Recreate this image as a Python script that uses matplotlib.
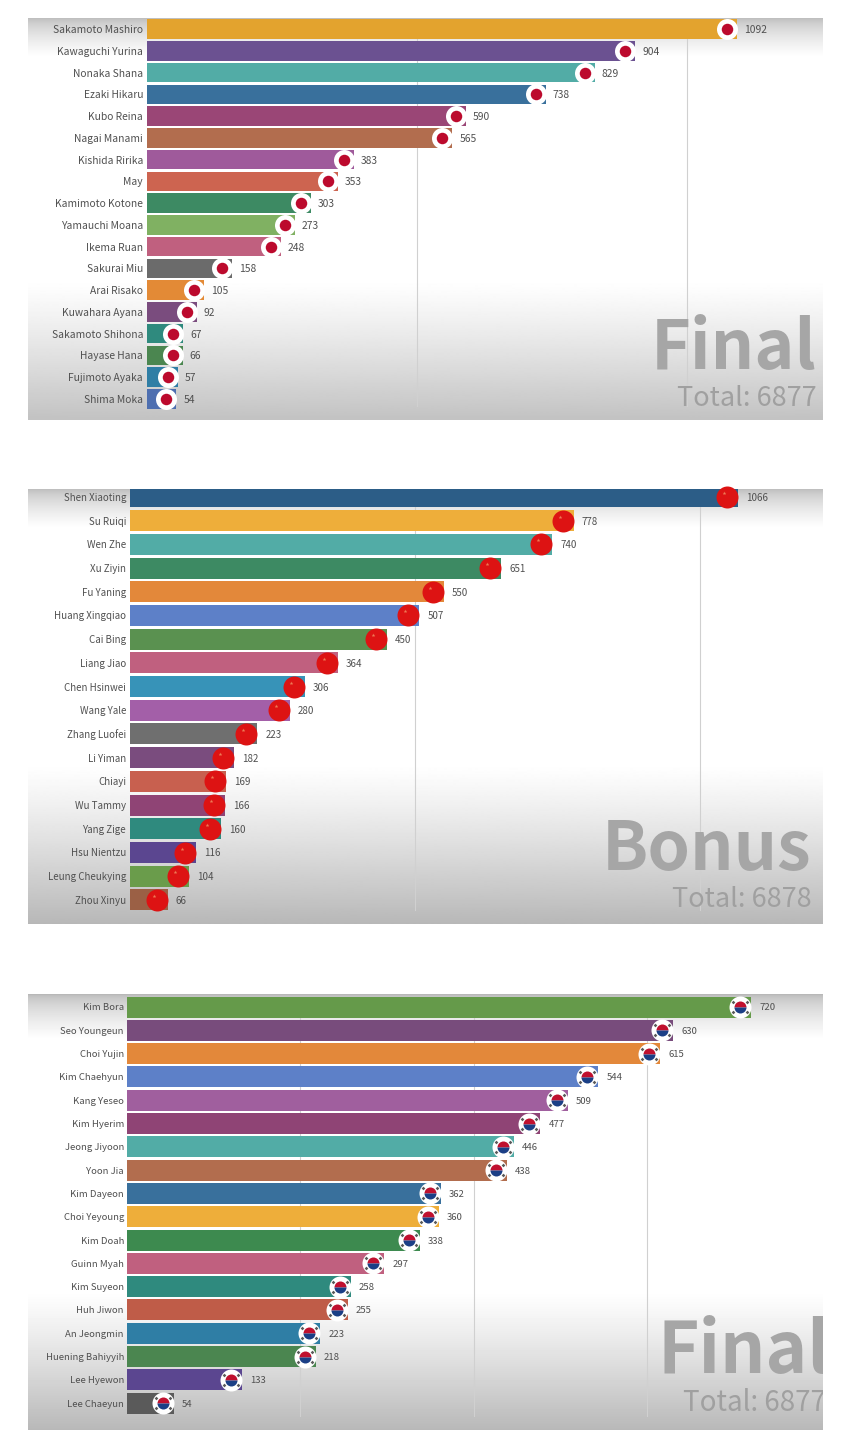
import numpy as np
import matplotlib
matplotlib.use("Agg")
import matplotlib.pyplot as plt
from matplotlib.transforms import ScaledTranslation

plt.rcParams['font.family'] = ['Noto Sans CJK KR', 'DejaVu Sans']

W, H = 850, 1432
DPI = 100

names_jp = ["Sakamoto Mashiro", "Kawaguchi Yurina", "Nonaka Shana", "Ezaki Hikaru", "Kubo Reina",
            "Nagai Manami", "Kishida Ririka", "May", "Kamimoto Kotone", "Yamauchi Moana", "Ikema Ruan",
            "Sakurai Miu", "Arai Risako", "Kuwahara Ayana", "Sakamoto Shihona", "Hayase Hana",
            "Fujimoto Ayaka", "Shima Moka"]
values_jp = [1092, 904, 829, 738, 590, 565, 383, 353, 303, 273, 248, 158, 105, 92, 67, 66, 57, 54]
colors_jp = ["#e3a32e", "#6b5191", "#52aca6", "#39709c", "#9a4676", "#b26d4e", "#9f5a9b", "#cd6450",
             "#3d8a63", "#80b162", "#c0607f", "#6b6b6b", "#e38a36", "#7a4c7e", "#2f8a7e", "#4b8650",
             "#2f7ea5", "#4e6fb0"]

names_cn = ["Shen Xiaoting", "Su Ruiqi", "Wen Zhe", "Xu Ziyin", "Fu Yaning", "Huang Xingqiao", "Cai Bing",
            "Liang Jiao", "Chen Hsinwei", "Wang Yale", "Zhang Luofei", "Li Yiman", "Chiayi", "Wu Tammy",
            "Yang Zige", "Hsu Nientzu", "Leung Cheukying", "Zhou Xinyu"]
values_cn = [1066, 778, 740, 651, 550, 507, 450, 364, 306, 280, 223, 182, 169, 166, 160, 116, 104, 66]
colors_cn = ["#2c5d87", "#eeae3a", "#52aca6", "#3d8a63", "#e3883a", "#5d80c8", "#5a9150", "#c0607f",
             "#3793b8", "#a35fa8", "#6f6f6f", "#7a4c7e", "#c8604f", "#8f4475", "#2f8a7e", "#5b4690",
             "#6a9c4b", "#9b6045"]

names_kr = ["Kim Bora", "Seo Youngeun", "Choi Yujin", "Kim Chaehyun", "Kang Yeseo", "Kim Hyerim",
            "Jeong Jiyoon", "Yoon Jia", "Kim Dayeon", "Choi Yeyoung", "Kim Doah", "Guinn Myah", "Kim Suyeon",
            "Huh Jiwon", "An Jeongmin", "Huening Bahiyyih", "Lee Hyewon", "Lee Chaeyun"]
values_kr = [720, 630, 615, 544, 509, 477, 446, 438, 362, 360, 338, 297, 258, 255, 223, 218, 133, 54]
colors_kr = ["#659a4a", "#784c7c", "#e3883a", "#5d80c8", "#a05f9e", "#8f4475", "#52aca6", "#b26d4e",
             "#39709c", "#eeae3a", "#3d8a4f", "#c0607f", "#2f8a7e", "#bf5c48", "#2f7ea5", "#4b8650",
             "#5b4690", "#5a5a5a"]

ticks_jp = [500, 1000]
ticks_cn = [500, 1000]
ticks_kr = [200, 400, 600]

fig = plt.figure(figsize=(W / DPI, H / DPI), dpi=DPI, facecolor="white")


def px(n):
    return n * 72.0 / DPI


def flag(ax, value, row, kind, dx):
    tr = ax.transData + ScaledTranslation(dx / DPI, 0, fig.dpi_scale_trans)
    def mark(ms, color, z=5, marker="o"):
        ax.plot([value], [row], marker=marker, ms=px(ms), mfc=color, mec="none", ls="none",
                transform=tr, zorder=z, clip_on=False)
    if kind == "jp":
        mark(21, "white")
        mark(11.5, "#bc0a2d", 6)
    elif kind == "cn":
        mark(22, "#dd1313")
        tr2 = tr + ScaledTranslation(-3 / DPI, 4 / DPI, fig.dpi_scale_trans)
        ax.plot([value], [row], marker="*", ms=px(4), mfc="#ee7a55", mec="none", ls="none",
                transform=tr2, zorder=6, clip_on=False)
    else:
        mark(22, "white")
        for ox, oy in [(-7, 5), (7, 5), (-7, -5), (7, -5)]:
            t = tr + ScaledTranslation(ox / DPI, oy / DPI, fig.dpi_scale_trans)
            ax.plot([value], [row], marker="D", ms=px(2.6), mfc="#5a5a5a", mec="none", ls="none",
                    transform=t, zorder=6, clip_on=False)
        ax.plot([value], [row], marker="o", ms=px(12), fillstyle="top", mfc="#c0102f",
                mfcalt="#1b3f86", mec="none", ls="none", transform=tr, zorder=6, clip_on=False)


def panel(box, x0, scale, c0, step, bar_h, names, values, colors, ticks, kind, title, total,
          title_pos, total_pos, label_size, fade_top, fade_bot, bot_grey, flag_dx, val_dx, lab_gap,
          title_size, total_size):
    L, T, R, B = box
    ax = fig.add_axes([L / W, 1 - B / H, (R - L) / W, (B - T) / H])
    h = B - T
    yy = np.arange(h)
    g = np.ones(h)
    g = np.where(yy < fade_top, 0.72 + 0.28 * (yy / fade_top) ** 0.6, g)
    start = h - fade_bot
    g = np.where(yy > start, 1 - (1 - bot_grey) * ((yy - start) / fade_bot) ** 1.15, g)
    ax.imshow(g[:, None], cmap="gray", vmin=0, vmax=1, aspect="auto", extent=(0, 1, 0, 1),
              transform=ax.transAxes, zorder=0)
    ax.set_xlim((L - x0) / scale, (R - x0) / scale)
    ax.set_ylim((B - c0) / step, (T - c0) / step)
    ax.axis("off")
    rows = np.arange(len(names))
    for t in ticks:
        ax.axvline(t, color="#d0d0d0", lw=0.8, zorder=1, ymax=1 - 6 / h, ymin=14 / h)
    ax.barh(rows, values, height=bar_h / step, color=colors, edgecolor="none", zorder=2)
    for r, (n, v) in enumerate(zip(names, values)):
        ax.annotate(n, (0, r), xytext=(-px(lab_gap), 0), textcoords="offset points", ha="right",
                    va="center_baseline", fontsize=label_size, color="#505050", zorder=7)
        ax.annotate(str(v), (v, r), xytext=(px(val_dx), 0), textcoords="offset points", ha="left",
                    va="center_baseline", fontsize=label_size, color="#505050", zorder=7)
        flag(ax, v, r, kind, flag_dx)
    tx, ha = title_pos
    ty = 1 - (tx[1] - T) / h
    ax.text((tx[0] - L) / (R - L), ty, title, transform=ax.transAxes, ha=ha, va="baseline",
            fontsize=title_size, fontweight="bold", color="#a6a6a6", zorder=3, clip_on=True)
    sx, sha = total_pos
    sy = 1 - (sx[1] - T) / h
    ax.text((sx[0] - L) / (R - L), sy, total, transform=ax.transAxes, ha=sha, va="baseline",
            fontsize=total_size, color="#a0a0a0", zorder=3, clip_on=True)


panel((28, 18, 823, 420), 147, 0.5403, 29, 21.76, 19.5, names_jp, values_jp, colors_jp, ticks_jp, "jp",
      "Final", "Total: 6877", ((817, 369), "right"), ((817, 406), "right"), 7.4, 38, 140, 0.76, -10, 7, 4,
      49, 19.5)
panel((28, 489, 823, 924), 130, 0.5704, 497, 23.7, 21, names_cn, values_cn, colors_cn, ticks_cn, "cn",
      "Bonus", "Total: 6878", ((811, 870), "right"), ((812, 907), "right"), 7.0, 38, 160, 0.72, -11, 8, 4,
      49, 19.5)
panel((28, 994, 823, 1430), 127, 0.8667, 1007, 23.3, 21, names_kr, values_kr, colors_kr, ticks_kr, "kr",
      "Final", "Total: 6877", ((657, 1373), "left"), ((683, 1411), "left"), 6.9, 45, 140, 0.72, -11, 8, 3,
      51, 20)

fig.savefig("out.png", dpi=DPI, facecolor="white")
